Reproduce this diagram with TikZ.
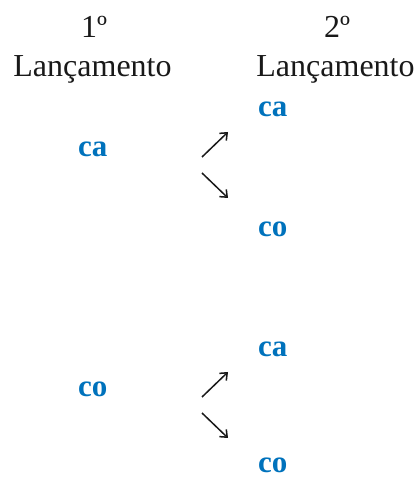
\documentclass[tikz,border=0pt]{standalone}
\usepackage{fontspec}
\setmainfont{Liberation Serif}
\usetikzlibrary{arrows.meta}
\definecolor{outblue}{RGB}{0,114,188}
\begin{document}
\begin{tikzpicture}[x=1pt,y=1pt,
  head/.style={anchor=base,inner sep=0pt,font=\fontsize{32}{38}\selectfont,text=black!90},
  res/.style={anchor=base west,inner sep=0pt,font=\bfseries\fontsize{31}{36}\selectfont,text=outblue},
  arr/.style={-{Straight Barb[length=6pt,width=10pt]},line width=1.5pt,black!90}]
\useasboundingbox (0,0) rectangle (419,480);
% headers
\node[head] (h1a) at (94,442) {1º};
\node[head] (h1b) at (92.5,403) {Lançamento};
\node[head] (h2a) at (337,442) {2º};
\node[head] (h2b) at (335.5,403) {Lançamento};
% first level
\node[res] (ca1) at (78,323) {ca};
\node[res] (co1) at (78,83) {co};
% second level
\node[res] (ca11) at (258,363) {ca};
\node[res] (co11) at (258,243) {co};
\node[res] (ca21) at (258,123) {ca};
\node[res] (co21) at (258,8) {co};
% arrows
\coordinate (a1s) at (202,323);
\coordinate (a1e) at (228,348);
\coordinate (a2s) at (202,307);
\coordinate (a2e) at (228,282);
\coordinate (b1s) at (202,83);
\coordinate (b1e) at (228,108);
\coordinate (b2s) at (202,67);
\coordinate (b2e) at (228,42);
\draw[arr] (a1s) -- (a1e);
\draw[arr] (a2s) -- (a2e);
\draw[arr] (b1s) -- (b1e);
\draw[arr] (b2s) -- (b2e);
\end{tikzpicture}
\end{document}
